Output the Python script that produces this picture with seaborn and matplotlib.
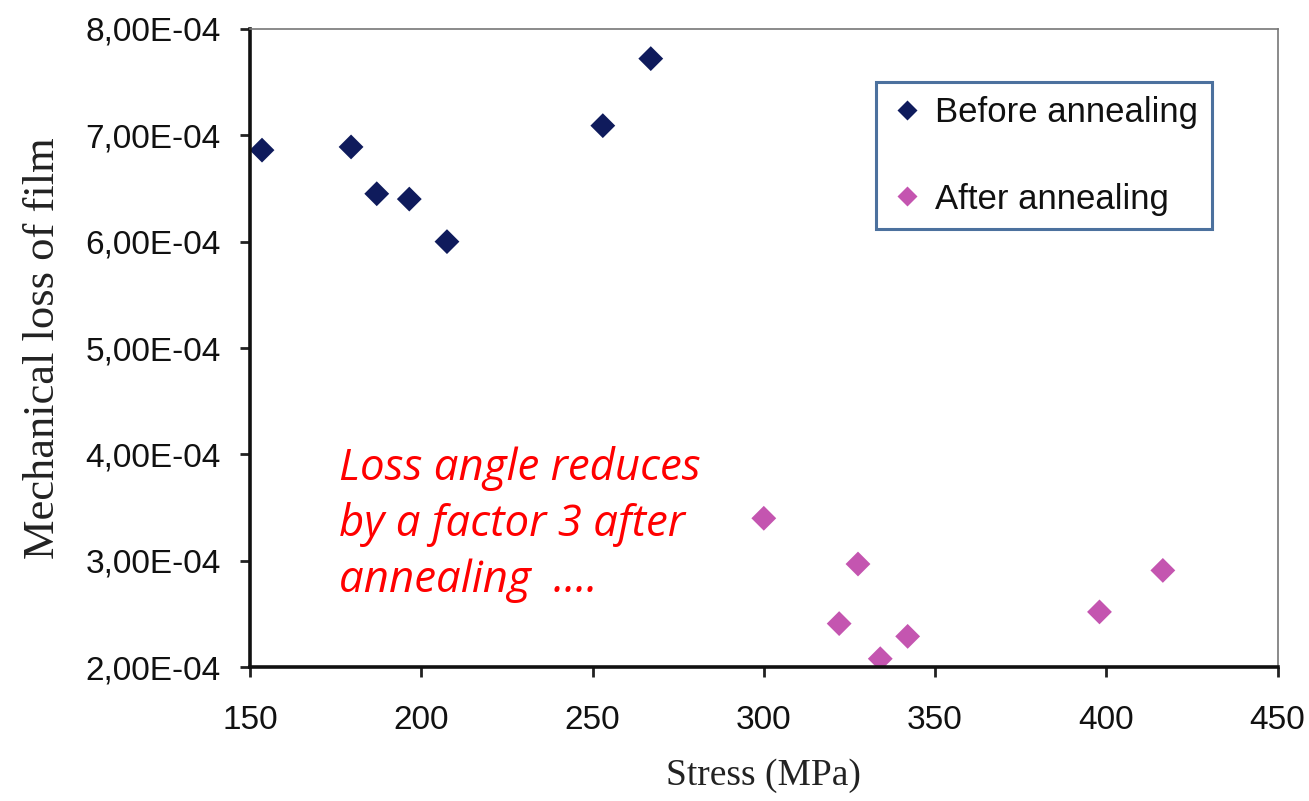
import matplotlib.pyplot as plt
import matplotlib.ticker as mticker
import pandas as pd
import seaborn as sns

sns.set_theme(style='white')

# Stress (MPa) and mechanical loss
before_stress = [153.5, 179.5, 187, 196.5, 207.5, 253, 267]
before_loss = [6.86e-4, 6.89e-4, 6.45e-4, 6.40e-4, 6.00e-4, 7.09e-4, 7.72e-4]
after_stress = [300, 322, 327.5, 334, 342, 398, 416.5]
after_loss = [3.40e-4, 2.41e-4, 2.97e-4, 2.08e-4, 2.29e-4, 2.52e-4, 2.91e-4]
groups = ['Before annealing', 'After annealing']
colours = ['#0f1b5c', '#c455b0']

df = pd.concat([
    pd.DataFrame({'Stress': before_stress, 'Loss': before_loss,
                  'Group': groups[0]}),
    pd.DataFrame({'Stress': after_stress, 'Loss': after_loss,
                  'Group': groups[1]}),
])

fig = plt.figure(figsize=(13.09, 8.01), dpi=100)
ax = fig.add_axes([0.191, 0.167, 0.785, 0.797])

sns.scatterplot(
    data=df, x='Stress', y='Loss', hue='Group', hue_order=groups,
    palette=colours, marker='D', s=160, edgecolor='none', ax=ax
)

ax.set_xlim(150, 450)
ax.set_ylim(2e-4, 8e-4)
ax.set_xticks(range(150, 451, 50))
ax.set_yticks([i * 1e-4 for i in range(2, 9)])
ax.yaxis.set_major_formatter(mticker.FuncFormatter(
    lambda v, pos: ('%.2E' % v).replace('.', ',')
))

# thick black left/bottom, thin grey top/right
for side in ['left', 'bottom']:
    ax.spines[side].set_color('#111111')
    ax.spines[side].set_linewidth(2.6)
for side in ['top', 'right']:
    ax.spines[side].set_color('#777777')
    ax.spines[side].set_linewidth(1.2)

ax.tick_params(direction='out', length=7, width=2, color='#222222',
               labelsize=24, left=True, bottom=True)
ax.tick_params(axis='x', pad=20)
ax.tick_params(axis='y', pad=14)
for lab in ax.get_xticklabels() + ax.get_yticklabels():
    lab.set_family('Liberation Sans')
    lab.set_color('#111111')

ax.set_xlabel('Stress (MPa)', family='Liberation Serif', fontsize=27,
              color='#222222', labelpad=16)
ax.set_ylabel('Mechanical loss of film', family='Liberation Serif',
              fontsize=32, color='#222222', labelpad=16)

leg = ax.legend(
    loc='upper left', bbox_to_anchor=(0.609, 0.917), frameon=True,
    fancybox=False, fontsize=25, labelspacing=1.55, handlelength=1.0,
    handletextpad=0.3, borderpad=0.4, markerscale=0.8, borderaxespad=0
)
leg.get_frame().set_edgecolor('#1f4e86')
leg.get_frame().set_linewidth(2.2)
for t in leg.get_texts():
    t.set_family('Liberation Sans')
    t.set_color('#111111')

ax.text(
    0.087, 0.224, 'Loss angle reduces\nby a factor 3 after\nannealing  ....',
    transform=ax.transAxes, color='red', fontsize=31.5, style='italic',
    family='Open Sans', ha='left', va='center', linespacing=1.33
)

plt.savefig('out.png', dpi=100, facecolor='white')
